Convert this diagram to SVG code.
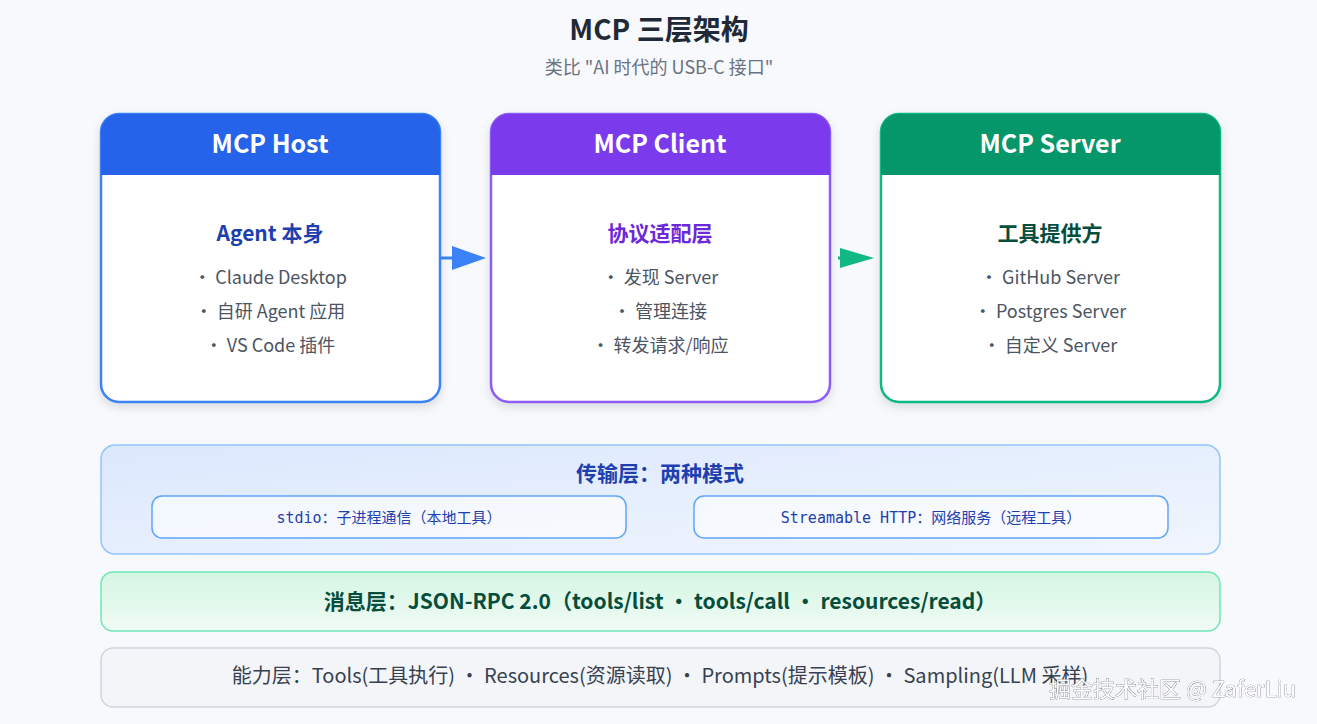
<svg xmlns="http://www.w3.org/2000/svg" width="1317" height="724" viewBox="0 0 1317 724">
<style>
text{font-family:"Noto Sans CJK SC","Noto Sans",sans-serif;text-anchor:middle}
.hd{font-size:25px;font-weight:bold;fill:#fff}
.sub{font-size:21px;font-weight:bold}
.it{font-size:18px;fill:#4b5563}
.mono{font-family:"DejaVu Sans Mono","Noto Sans CJK SC",monospace;font-size:15px;fill:#1e40af}
</style>
<defs>
<linearGradient id="gb" x1="0" y1="0" x2="1" y2="1"><stop offset="0" stop-color="#dbe8fd"/><stop offset="1" stop-color="#f1f6fe"/></linearGradient>
<linearGradient id="gg" x1="0" y1="0" x2="0" y2="1"><stop offset="0" stop-color="#d4f6e3"/><stop offset="1" stop-color="#f0fbf5"/></linearGradient>
<filter id="sh" x="-10%" y="-10%" width="120%" height="130%"><feDropShadow dx="0" dy="4" stdDeviation="5" flood-opacity="0.12"/></filter>
</defs>
<rect width="1317" height="724" fill="#f7f9fc"/>
<text x="659" y="40" style="font-size:28px;font-weight:bold;fill:#1f2937">MCP 三层架构</text>
<text x="659" y="74" style="font-size:18px;fill:#6b7280">类比 "AI 时代的 USB-C 接口"</text>
<g id="connectors">
<path d="M441 258 H472" stroke="#3b82f6" stroke-width="3"/><path d="M452 246 L486 258 L452 270Z" fill="#3b82f6"/>
<path d="M838 258 H848" stroke="#10b981" stroke-width="3"/><path d="M840 248 L874 258 L840 268Z" fill="#10b981"/>
</g>
<g id="host">
<rect x="101" y="114" width="339" height="288" rx="18" fill="#fff" stroke="#3b82f6" stroke-width="2.5" filter="url(#sh)"/>
<path d="M101 175 V132 a18 18 0 0 1 18 -18 H422 a18 18 0 0 1 18 18 V175Z" fill="#2563eb"/>
<text class="hd" x="270" y="153">MCP Host</text>
<text class="sub" x="270" y="241" fill="#1e40af">Agent 本身</text>
<text class="it" x="270" y="284">・ Claude Desktop</text>
<text class="it" x="270" y="318">・ 自研 Agent 应用</text>
<text class="it" x="270" y="352">・ VS Code 插件</text>
</g>
<g id="client">
<rect x="491" y="114" width="339" height="288" rx="18" fill="#fff" stroke="#8b5cf6" stroke-width="2.5" filter="url(#sh)"/>
<path d="M491 175 V132 a18 18 0 0 1 18 -18 H812 a18 18 0 0 1 18 18 V175Z" fill="#7c3aed"/>
<text class="hd" x="660" y="153">MCP Client</text>
<text class="sub" x="660" y="241" fill="#6d28d9">协议适配层</text>
<text class="it" x="660" y="284">・ 发现 Server</text>
<text class="it" x="660" y="318">・ 管理连接</text>
<text class="it" x="660" y="352">・ 转发请求/响应</text>
</g>
<g id="server">
<rect x="881" y="114" width="339" height="288" rx="18" fill="#fff" stroke="#10b981" stroke-width="2.5" filter="url(#sh)"/>
<path d="M881 175 V132 a18 18 0 0 1 18 -18 H1202 a18 18 0 0 1 18 18 V175Z" fill="#059669"/>
<text class="hd" x="1050" y="153">MCP Server</text>
<text class="sub" x="1050" y="241" fill="#064e3b">工具提供方</text>
<text class="it" x="1050" y="284">・ GitHub Server</text>
<text class="it" x="1050" y="318">・ Postgres Server</text>
<text class="it" x="1050" y="352">・ 自定义 Server</text>
</g>
<g id="transport">
<rect x="101" y="445" width="1119" height="109" rx="14" fill="url(#gb)" stroke="#93c5fd" stroke-width="1.5"/>
<text x="660" y="481" style="font-size:21px;font-weight:bold;fill:#1e40af">传输层：两种模式</text>
<rect x="152" y="496" width="474" height="42" rx="10" fill="#fff" fill-opacity="0.6" stroke="#60a5fa" stroke-width="1.5"/>
<text class="mono" x="389" y="523">stdio：子进程通信（本地工具）</text>
<rect x="694" y="496" width="474" height="42" rx="10" fill="#fff" fill-opacity="0.6" stroke="#60a5fa" stroke-width="1.5"/>
<text class="mono" x="931" y="523">Streamable HTTP：网络服务（远程工具）</text>
</g>
<g id="message">
<rect x="101" y="572" width="1119" height="59" rx="12" fill="url(#gg)" stroke="#6ee7b7" stroke-width="1.5"/>
<text x="660" y="609" style="font-size:21px;font-weight:bold;fill:#064e3b">消息层：JSON-RPC 2.0（tools/list ・ tools/call ・ resources/read）</text>
</g>
<g id="capability">
<rect x="101" y="648" width="1119" height="59" rx="12" fill="#f3f5f8" stroke="#d1d5db" stroke-width="1.5"/>
<text x="660" y="683" style="font-size:20px;fill:#374151">能力层：Tools(工具执行) ・ Resources(资源读取) ・ Prompts(提示模板) ・ Sampling(LLM 采样)</text>
</g>
<text x="1296" y="697" style="font-size:22px;fill:#fff;text-anchor:end;stroke:#555;stroke-width:0.6;paint-order:stroke" opacity="0.9">掘金技术社区 @ ZaferLiu</text>
</svg>
